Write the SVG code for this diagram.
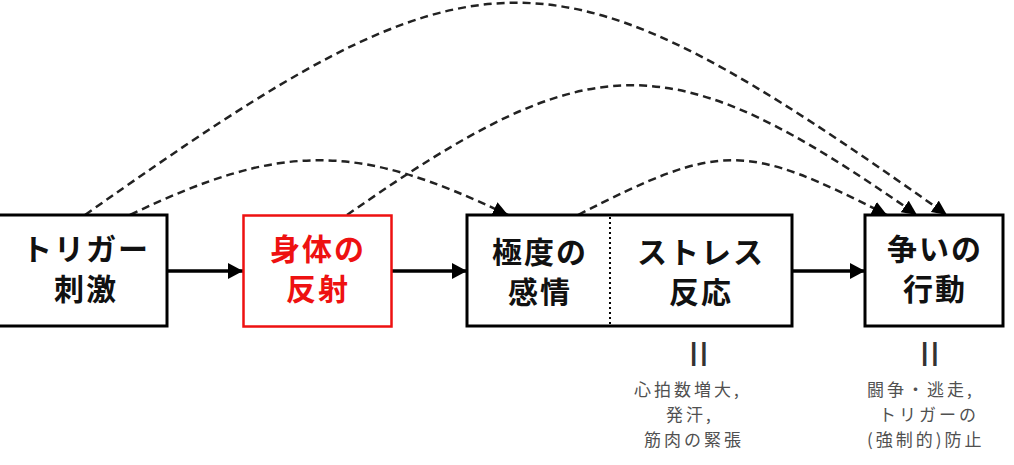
<svg xmlns="http://www.w3.org/2000/svg" width="1014" height="465" viewBox="0 0 1014 465">
<style>
.box{fill:#fff;stroke:#000;stroke-width:3}
.red{fill:#fff;stroke:#ee1111;stroke-width:2.5}
.t{font-family:"Noto Sans CJK JP","Noto Sans CJK SC",sans-serif;font-size:30px;font-weight:bold;fill:#111;text-anchor:middle;letter-spacing:2px}
.tr{fill:#ee1111}
.s{font-family:"Noto Sans CJK JP","Noto Sans CJK SC",sans-serif;font-size:17px;fill:#505050;letter-spacing:3px}
.eq{font-family:"Liberation Sans",sans-serif;font-size:26px;font-weight:bold;fill:#333;letter-spacing:3px}
.dash{fill:none;stroke:#222;stroke-width:2.5;stroke-dasharray:8 5}
.solid{fill:none;stroke:#000;stroke-width:3.5}
</style>
<defs>
<marker id="ah" markerUnits="userSpaceOnUse" markerWidth="16" markerHeight="14" refX="15" refY="7" orient="auto">
<path d="M0,0 L15,7 L0,14 Z" fill="#000"/>
</marker>
<marker id="as" markerUnits="userSpaceOnUse" markerWidth="16" markerHeight="16" refX="15" refY="8" orient="auto">
<path d="M0,0 L15,8 L0,16 Z" fill="#000"/>
</marker>
</defs>
<g id="connectors">
<path class="dash" d="M85,215 C485,-68 547,-68 947,215" marker-end="url(#ah)"/>
<path class="dash" d="M130,215 C282,142 356,142 508,215" marker-end="url(#ah)"/>
<path class="dash" d="M347,215 C594,42 670,42 917,215" marker-end="url(#ah)"/>
<path class="dash" d="M578,215 C721,142 744,142 887,215" marker-end="url(#ah)"/>
<line class="solid" x1="168" y1="271" x2="243" y2="271" marker-end="url(#as)"/>
<line class="solid" x1="392" y1="271" x2="467" y2="271" marker-end="url(#as)"/>
<line class="solid" x1="792" y1="271" x2="865" y2="271" marker-end="url(#as)"/>
</g>
<g id="trigger">
<rect class="box" x="-3" y="215" width="170" height="111"/>
<text class="t" x="86" y="260">トリガー</text>
<text class="t" x="86" y="300">刺激</text>
</g>
<g id="reflex">
<rect class="red" x="243.5" y="215.5" width="148" height="111"/>
<text class="t tr" x="318" y="260">身体の</text>
<text class="t tr" x="318" y="300">反射</text>
</g>
<g id="emotion-stress">
<rect class="box" x="467" y="215" width="325" height="111"/>
<line x1="610" y1="217" x2="610" y2="325" stroke="#000" stroke-width="2" stroke-dasharray="2 3"/>
<text class="t" x="540" y="263">極度の</text>
<text class="t" x="540" y="303">感情</text>
<text class="t" x="701" y="263">ストレス</text>
<text class="t" x="701" y="303">反応</text>
</g>
<g id="fight">
<rect class="box" x="865" y="215" width="138" height="111"/>
<text class="t" x="935" y="260">争いの</text>
<text class="t" x="935" y="300">行動</text>
</g>
<g id="note-stress">
<text class="eq" x="690" y="361">||</text>
<text class="s" x="634" y="396">心拍数増大,</text>
<text class="s" x="666" y="421">発汗,</text>
<text class="s" x="644" y="446">筋肉の緊張</text>
</g>
<g id="note-fight">
<text class="eq" x="921" y="361">||</text>
<text class="s" x="867" y="396">闘争・逃走,</text>
<text class="s" x="879" y="421">トリガーの</text>
<text class="s" x="867" y="446">(強制的)防止</text>
</g>
</svg>
